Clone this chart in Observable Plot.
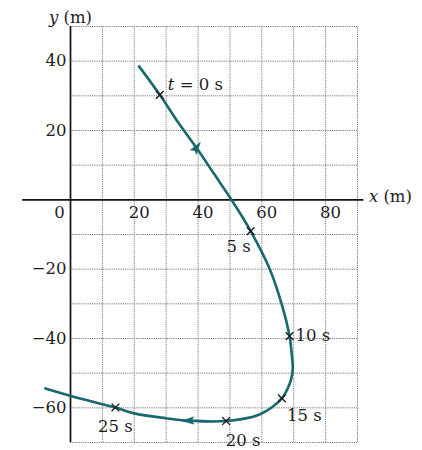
<!DOCTYPE html>
<html>
<head>
<meta charset="utf-8">
<script src="https://cdn.jsdelivr.net/npm/d3@7"></script>
<script src="https://cdn.jsdelivr.net/npm/@observablehq/plot@0.6"></script>
<style>
  html, body { margin: 0; padding: 0; background: #ffffff; }
  #chart svg { display: block; background: linear-gradient(to right, #ffffff 0 16px, #e7e9e8 16px); }
</style>
</head>
<body>
<div id="chart"></div>
<script>
// ---- data ----
const pathX = [21.5, 28, 34, 39.5, 45, 50.5, 56.5, 62.5, 66.2, 68.7, 69.4, 69.7, 69.2, 68, 66.3, 59.1, 48.8, 37, 30, 20, 14.1, 3, -7.9];
const pathY = [38.5, 30.3, 22, 15, 7.5, 0, -9, -20, -30, -39.3, -44.8, -48.5, -51.8, -54.6, -57.3, -62, -63.8, -63.7, -63, -61.6, -59.9, -57.3, -54.4];
const markLabels = ["t = 0 s", "5 s", "10 s", "15 s", "20 s", "25 s"];
const markX = [28, 56.5, 68.7, 66.3, 48.8, 14.1];
const markY = [30.3, -9, -39.3, -57.3, -63.8, -59.9];
const arrowIndex = [3, 17]; // arrowheads sit on these path points
const xTicks = [0, 20, 40, 60, 80];
const yTicks = [40, 20, -20, -40, -60];
const gridX = [10, 20, 30, 40, 50, 60, 70, 80, 90];
const gridY = [50, 40, 30, 20, 10, -10, -20, -30, -40, -50, -60, -70];

// ---- layout ----
const W = 422, H = 450;
const mL = 70, mR = 65, mT = 26, mB = 8;
const xDom = [0, 90], yDom = [-70, 50];
const kx = (W - mL - mR) / (xDom[1] - xDom[0]);
const ky = (H - mT - mB) / (yDom[1] - yDom[0]);

const path = pathX.map((x, i) => ({x, y: pathY[i]}));
const marks = markLabels.map((label, i) => ({label, x: markX[i], y: markY[i]}));
const arrows = arrowIndex.map(i => {
  const a = path[i - 1], b = path[i + 1];
  const ang = Math.atan2((b.x - a.x) * kx, (b.y - a.y) * ky) * 180 / Math.PI;
  return {x: path[i].x, y: path[i].y, angle: 180 - ang};
});

const arrowSymbol = {
  draw(ctx, size) {
    const s = Math.sqrt(size);
    ctx.moveTo(0, -s * 0.75);
    ctx.lineTo(s * 0.42, s * 0.6);
    ctx.lineTo(0, s * 0.35);
    ctx.lineTo(-s * 0.42, s * 0.6);
    ctx.closePath();
  }
};

const teal = "#17696f";
const font = "'DejaVu Serif', 'Liberation Serif', serif";
const ink = "#1e1e1e";
const fs = 16.5;
const T = {fontFamily: font, fontSize: fs, fill: ink};

const lbl = (name, opts) => Plot.text(marks.filter(d => d.label === name), {
  x: "x", y: "y", text: "label", ...T, ...opts
});

const chart = Plot.plot({
  width: W, height: H,
  marginLeft: mL, marginRight: mR, marginTop: mT, marginBottom: mB,
  x: {domain: xDom, axis: null},
  y: {domain: yDom, axis: null},
  style: {background: "transparent", overflow: "visible"},
  marks: [
    Plot.ruleX(gridX, {y1: yDom[0], y2: yDom[1], stroke: "#7a7a7a", strokeWidth: 1, strokeDasharray: "1.2,1"}),
    Plot.ruleY(gridY, {x1: xDom[0], x2: xDom[1], stroke: "#7a7a7a", strokeWidth: 1, strokeDasharray: "1.2,1"}),
    Plot.ruleX([0], {y1: yDom[0], y2: yDom[1], stroke: "#111", strokeWidth: 1.7}),
    Plot.ruleY([0], {x1: -15, x2: 92, stroke: "#111", strokeWidth: 1.7}),
    Plot.line(path, {x: "x", y: "y", curve: "catmull-rom", stroke: teal, strokeWidth: 2.6}),
    Plot.dot(arrows, {x: "x", y: "y", rotate: "angle", symbol: arrowSymbol, r: 5, fill: teal, stroke: teal, strokeWidth: 0.5}),
    Plot.dot(marks, {x: "x", y: "y", symbol: "times", r: 3.6, stroke: ink, strokeWidth: 1.4}),
    // tick labels
    Plot.text(xTicks.filter(d => d === 0), {x: d => d, y: 0, text: d => String(d), dx: -11, dy: 13, ...T}),
    Plot.text(xTicks.filter(d => d !== 0), {x: d => d, y: 0, text: d => String(d), dx: 5, dy: 13, ...T}),
    Plot.text(yTicks, {x: 0, y: d => d, text: d => d < 0 ? "\u2212" + Math.abs(d) : String(d), dx: -4, textAnchor: "end", ...T}),
    // axis titles
    Plot.text(["y (m)"], {x: 0, y: yDom[1], text: d => d, dy: -9, ...T}),
    Plot.text(["x (m)"], {x: 92, y: 0, text: d => d, dx: 5, dy: -3, textAnchor: "start", ...T}),
    // time labels
    lbl("t = 0 s", {dx: 8, dy: -10, textAnchor: "start"}),
    lbl("5 s", {dx: -12, dy: 16}),
    lbl("10 s", {dx: 6, dy: 0, textAnchor: "start"}),
    lbl("15 s", {dx: 5, dy: 17, textAnchor: "start"}),
    lbl("20 s", {dx: 17, dy: 20}),
    lbl("25 s", {dx: 0, dy: 19})
  ]
});

// italicise the variable letters (t, x, y) as in the figure
d3.select(chart).selectAll("text").each(function () {
  const s = this.textContent;
  const m = s.match(/^([txy])(\s.*)$/);
  if (m) {
    const el = d3.select(this);
    el.text(null);
    el.append("tspan").attr("font-style", "italic").text(m[1]);
    el.append("tspan").text(m[2]);
  }
});
document.getElementById("chart").appendChild(chart);
</script>
</body>
</html>
